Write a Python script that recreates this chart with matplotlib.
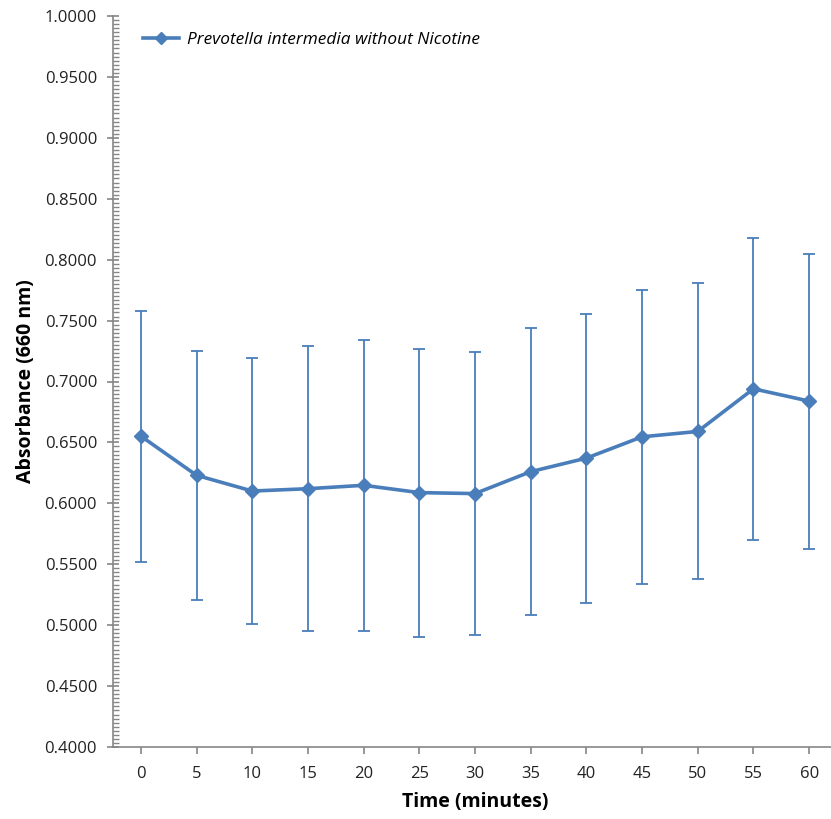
import matplotlib
matplotlib.use("Agg")
import matplotlib.pyplot as plt
from matplotlib.ticker import MultipleLocator, FormatStrFormatter
from matplotlib.lines import Line2D
import numpy as np

time_min = [0, 5, 10, 15, 20, 25, 30, 35, 40, 45, 50, 55, 60]
absorbance = [0.6552, 0.6230, 0.6101, 0.6120, 0.6148, 0.6088, 0.6080,
              0.6260, 0.6371, 0.6546, 0.6590, 0.6940, 0.6839]
std_err = [0.1030, 0.1022, 0.1090, 0.1168, 0.1195, 0.1182, 0.1160,
           0.1176, 0.1187, 0.1207, 0.1215, 0.1240, 0.1210]
series_label = "Prevotella intermedia without Nicotine"

plt.rcParams['font.family'] = ['Open Sans', 'DejaVu Sans']

blue = '#4A7EBB'
gray = '#868686'

fig = plt.figure(figsize=(8.31, 8.19), dpi=100)
ax = fig.add_axes([113/831, 1 - 747/819, (837 - 113)/831, (747 - 16)/819])

ax.errorbar(time_min, absorbance, yerr=std_err, color=blue, lw=2.6,
            marker='D', markersize=7, ecolor=blue, elinewidth=1.3,
            capsize=4.5, capthick=1.3, zorder=3)

ax.set_xlim(-2.5, 62.5)
ax.set_ylim(0.4, 1.0)
ax.set_xticks(time_min)
ax.set_xticklabels([str(t) for t in time_min])
ax.yaxis.set_major_locator(MultipleLocator(0.05))
ax.yaxis.set_minor_locator(MultipleLocator(0.05 / 15))
ax.yaxis.set_major_formatter(FormatStrFormatter('%.4f'))

for s in ['top', 'right']:
    ax.spines[s].set_visible(False)
for s in ['left', 'bottom']:
    ax.spines[s].set_color(gray)
    ax.spines[s].set_linewidth(1.2)

ax.tick_params(axis='x', which='major', direction='out', length=5, width=1.2,
               color=gray, labelsize=12, pad=9, labelcolor='#222222')
ax.tick_params(axis='y', which='major', direction='inout', length=9, width=1.2,
               color=gray, labelsize=12, pad=7, labelcolor='#222222')
ax.tick_params(axis='y', which='minor', direction='in', length=4, width=1.0,
               color=gray)
ax.tick_params(axis='x', which='minor', bottom=False)

ax.set_xlabel('Time (minutes)', fontsize=14, fontweight='bold', labelpad=7)
ax.set_ylabel('Absorbance (660 nm)', fontsize=14, fontweight='bold', labelpad=6)

handle = Line2D([], [], color=blue, lw=2.6, marker='D', markersize=6)
leg = ax.legend([handle], [series_label], loc='center left',
                bbox_to_anchor=(0.03, 0.967), frameon=False,
                prop={'style': 'italic', 'size': 12.4}, handlelength=2.1,
                handletextpad=0.45, borderpad=0.0)

fig.savefig('out.png', dpi=100)
